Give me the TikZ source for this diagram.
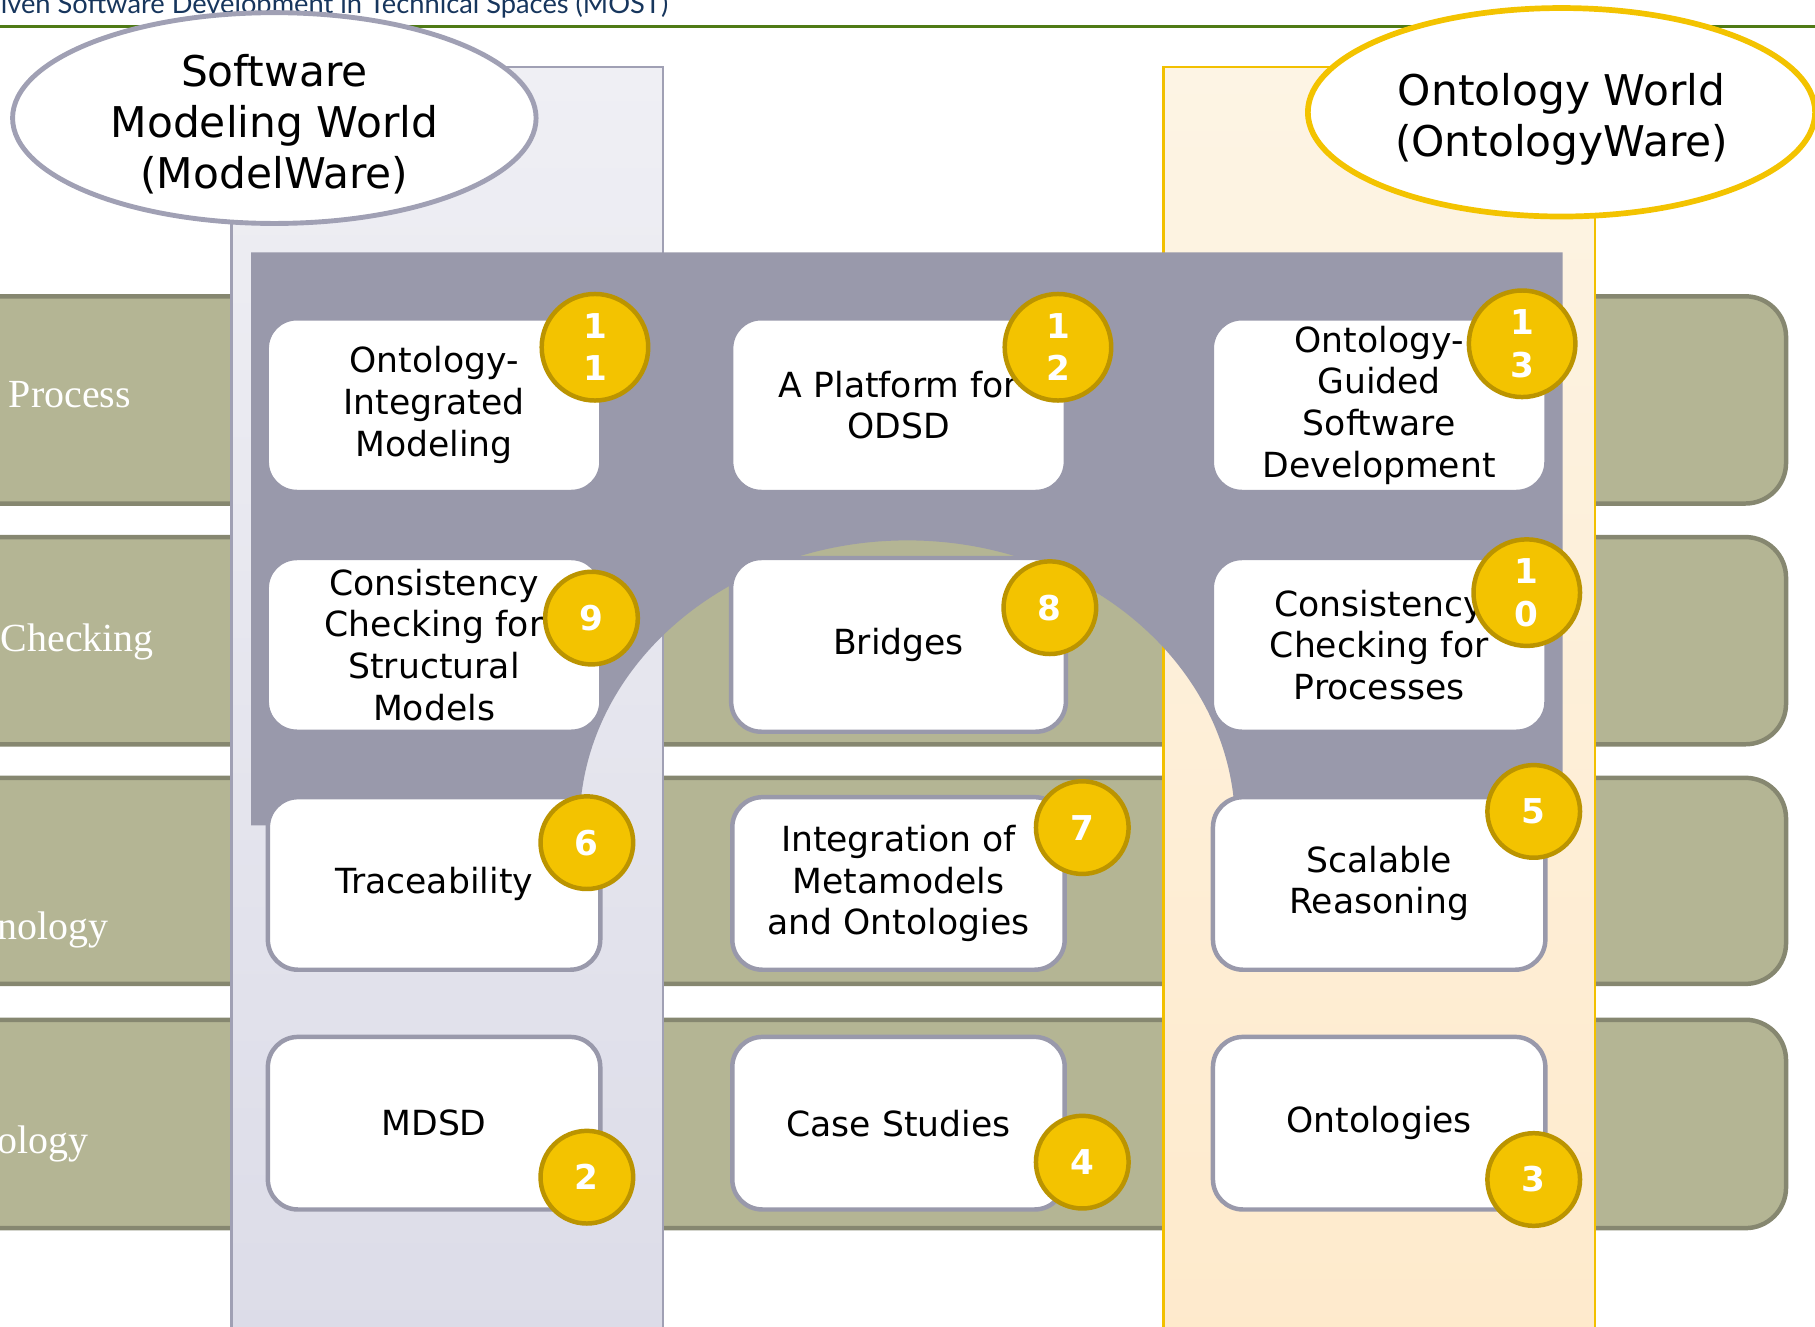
\documentclass[tikz,border=0pt]{standalone}
\usepackage{fontspec}
\setmainfont{DejaVu Sans}
\newfontfamily\bandfont{Liberation Serif}
\newfontfamily\headfont{Lato}
\usetikzlibrary{positioning, shapes}
\definecolor{headnavy}{RGB}{23,54,93}
\definecolor{headgreen}{RGB}{79,122,22}
\definecolor{bandfill}{RGB}{180,181,148}
\definecolor{bandline}{RGB}{134,135,112}
\definecolor{lavtop}{RGB}{239,239,244}
\definecolor{lavbot}{RGB}{220,220,232}
\definecolor{lavline}{RGB}{160,160,180}
\definecolor{oratop}{RGB}{253,244,228}
\definecolor{orabot}{RGB}{254,234,204}
\definecolor{oraline}{RGB}{242,192,0}
\definecolor{archgray}{RGB}{153,153,171}
\definecolor{badgefill}{RGB}{243,195,0}
\definecolor{badgeline}{RGB}{187,148,0}
\tikzset{
		band/.style={draw=bandline, fill=bandfill, line width=1.1pt, rounded corners=0.35cm},
		bandlabel/.style={anchor=west, inner sep=0pt, text=white, font=\bandfont\fontsize{9.8}{11}\selectfont},
		world/.style={fill=white, line width=1.2pt},
		worldtext/.style={align=center, font=\fontsize{10.4}{12.5}\selectfont},
		topic/.style={draw=archgray, fill=white, line width=1.1pt, rounded corners=0.26cm, minimum width=2.89cm, minimum height=1.5cm, align=center, inner sep=1pt, font=\fontsize{8.5}{10.25}\selectfont},
		lowtopic/.style={topic, minimum width=2.87cm, minimum height=1.49cm},
		badge/.style={circle, draw=badgeline, fill=badgefill, line width=1.1pt, minimum size=0.8cm, inner sep=0pt, text=white, align=center, font=\bfseries\fontsize{8.4}{10.4}\selectfont},
		bigbadge/.style={badge, minimum size=0.92cm}
	}
\begin{document}
\begin{tikzpicture}[x=0.01cm, y=-0.01cm]
				\useasboundingbox (0,0) rectangle (1568,1146);

				\node[anchor=base west, inner sep=0pt, text=headnavy, font=\headfont\fontsize{6.7}{8}\selectfont] (title) at (0,12) {iven Software Development in Technical Spaces (MOST)};
				\draw[headgreen, line width=0.8pt] (0,23) -- (1568,23);

				\draw[band] (-60,256) rectangle (1543,435);
				\draw[band] (-60,464) rectangle (1543,643);
				\draw[band] (-60,672) rectangle (1543,850);
				\draw[band] (-60,881) rectangle (1543,1061);
				\node[bandlabel] (lprocess)  at (7,341)  {Process};
				\node[bandlabel] (lchecking) at (0,555)  {Checking};
				\node[bandlabel] (ltech)     at (-3,803) {nology};
				\node[bandlabel] (lmethod)   at (-3,988) {ology};

				\path[draw=lavline, line width=0.6pt, top color=lavtop, bottom color=lavbot] (200,58) rectangle (573,1160);
				\path[draw=oraline, line width=0.6pt, top color=oratop, bottom color=orabot] (1005,58) rectangle (1378,1160);

				\fill[archgray] (217,218) -- (1350,218) -- (1350,713) -- (1067,713)
					arc[start angle=0, end angle=180, x radius=2.83cm, y radius=2.46cm] -- (217,713) -- cycle;

				\draw[world, draw=lavline] (237,102) ellipse [x radius=2.26cm, y radius=0.91cm];
				\draw[world, draw=badgefill, line width=1.4pt] (1349,97) ellipse [x radius=2.19cm, y radius=0.9cm];
				\node[worldtext] (modelware) at (237,107) {Software\\Modeling World\\(ModelWare)};
				\node[worldtext] (ontoware)  at (1349,103) {Ontology World\\(OntologyWare)};

				\node[topic] (b11) at (375,350) {Ontology-\\Integrated\\Modeling};
				\node[topic] (b12) [node distance=4.01cm, right of=b11] {A Platform for\\ODSD};
				\node[topic] (b13) [node distance=4.15cm, right of=b12] {Ontology-\\Guided\\Software\\Development};

				\node[topic] (b21) [node distance=2.07cm, below of=b11] {Consistency\\Checking for\\Structural\\Models};
				\node[topic] (b22) [node distance=4.01cm, right of=b21] {Bridges};
				\node[topic] (b23) [node distance=4.15cm, right of=b22] {Consistency\\Checking for\\Processes};

				\node[lowtopic] (b31) [node distance=2.06cm, below of=b21] {Traceability};
				\node[lowtopic] (b32) [node distance=4.01cm, right of=b31] {Integration of\\Metamodels\\and Ontologies};
				\node[lowtopic] (b33) [node distance=4.15cm, right of=b32] {Scalable\\Reasoning};

				\node[lowtopic] (b41) [node distance=2.07cm, below of=b31] {MDSD};
				\node[lowtopic] (b42) [node distance=4.01cm, right of=b41] {Case Studies};
				\node[lowtopic] (b43) [node distance=4.15cm, right of=b42] {Ontologies};

				\node[bigbadge] (n11) at (514,300)  {1\\1};
				\node[bigbadge] (n12) at (914,300)  {1\\2};
				\node[bigbadge] (n13) at (1315,297) {1\\3};
				\node[badge]    (n9)  at (511,534)  {9};
				\node[badge]    (n8)  at (907,525)  {8};
				\node[bigbadge] (n10) at (1319,512) {1\\0};
				\node[badge]    (n6)  at (507,728)  {6};
				\node[badge]    (n7)  at (935,715)  {7};
				\node[badge]    (n5)  at (1325,701) {5};
				\node[badge]    (n2)  at (507,1017) {2};
				\node[badge]    (n4)  at (935,1004) {4};
				\node[badge]    (n3)  at (1325,1019) {3};
			\end{tikzpicture}
\end{document}
